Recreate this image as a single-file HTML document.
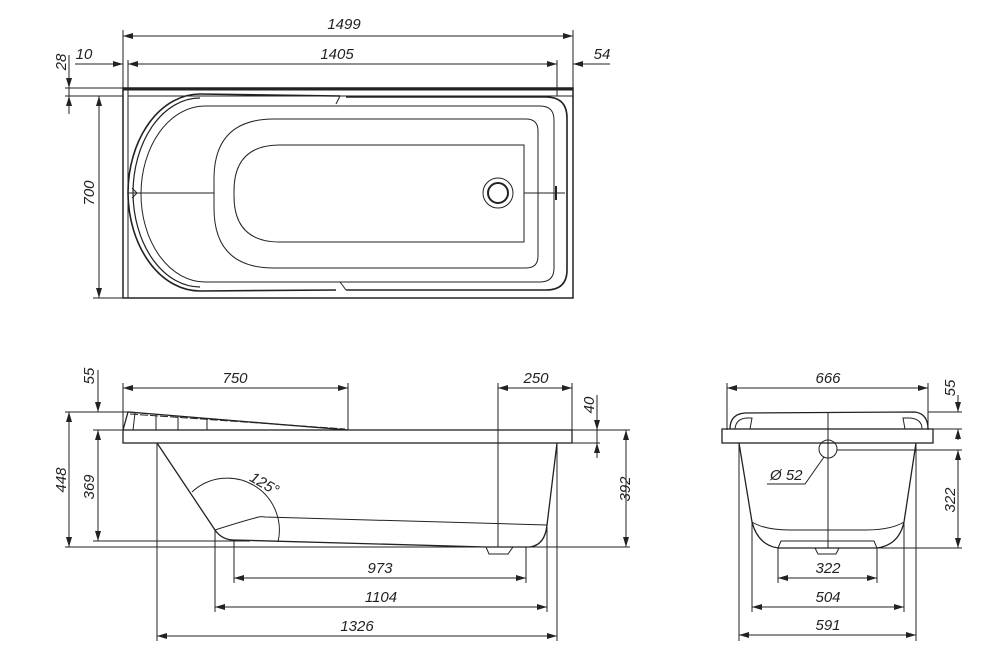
<!DOCTYPE html>
<html><head><meta charset="utf-8"><style>
html,body{margin:0;padding:0;background:#fff}
svg{display:block}
text{font-family:"Liberation Sans",sans-serif;font-style:italic;font-size:15px;fill:#222}
</style></head><body>
<svg width="1000" height="667" viewBox="0 0 1000 667" xmlns="http://www.w3.org/2000/svg">
<defs>
<marker id="a" viewBox="0 0 10 6" refX="10" refY="3" markerWidth="10" markerHeight="6" orient="auto-start-reverse" markerUnits="userSpaceOnUse"><path d="M0,0L10,3L0,6z" fill="#222"/></marker>
</defs>
<g stroke="#222" fill="none" stroke-width="1">
<!-- TOP VIEW -->
<line x1="123" y1="30" x2="123" y2="298"/>
<line x1="573" y1="30" x2="573" y2="298"/>
<line x1="123" y1="36" x2="573" y2="36" marker-start="url(#a)" marker-end="url(#a)"/>
<line x1="128" y1="60" x2="128" y2="298"/>
<line x1="557" y1="60" x2="557" y2="96"/>
<line x1="75" y1="64" x2="123" y2="64" marker-end="url(#a)"/>
<line x1="128" y1="64" x2="557" y2="64" marker-start="url(#a)" marker-end="url(#a)"/>
<line x1="573" y1="64" x2="610" y2="64" marker-start="url(#a)"/>
<line x1="69" y1="55" x2="69" y2="110"/>
<line x1="69" y1="70" x2="69" y2="88" marker-end="url(#a)"/>
<line x1="69" y1="114" x2="69" y2="96" marker-end="url(#a)"/>
<line x1="65" y1="88" x2="123" y2="88"/>
<line x1="65" y1="96" x2="123" y2="96"/>
<line x1="93" y1="298" x2="123" y2="298"/>
<line x1="99" y1="96" x2="99" y2="298" marker-start="url(#a)" marker-end="url(#a)"/>
<rect x="123" y="88" width="450" height="210" stroke-width="1.5"/>
<line x1="123" y1="89.5" x2="573" y2="89.5" stroke-width="2"/>
<line x1="128" y1="96" x2="573" y2="96"/>
<path d="M340,96 L200,94 A72,99 0 0 0 128,193 A72,99 0 0 0 200,291 L336,290" stroke-width="1.6"/>
<path d="M340,96 L336,104 M346,290 L340,282"/>
<path d="M346,97 L546,97 Q567,97 567,118 L567,270 Q567,290 546,290 L346,290" stroke-width="1.6"/>
<path d="M200,98 A67,95 0 0 0 133,193 A67,95 0 0 0 200,287" stroke-width="1.2"/>
<path d="M205,106 L540,106 Q554,106 554,120 L554,268 Q554,282 540,282 L205,282 A64,88 0 0 1 141,194 A64,88 0 0 1 205,106 Z"/>
<path d="M274,119 L526,119 Q538,119 538,131 L538,256 Q538,268 526,268 L274,268 Q214,268 214,208 L214,179 Q214,119 274,119 Z"/>
<path d="M280,145 L524,145 L524,242 L280,242 Q234,242 234,196 L234,191 Q234,145 280,145 Z"/>
<circle cx="498" cy="193" r="15"/>
<circle cx="498" cy="193" r="10" stroke-width="2"/>
<line x1="128" y1="193" x2="214" y2="193"/>
<line x1="524" y1="193" x2="565" y2="193"/>
<path d="M132,188 L137,193 L132,198"/>
<line x1="556" y1="186" x2="556" y2="200" stroke-width="2"/>

<!-- SIDE VIEW -->
<rect x="123" y="430" width="449" height="13" stroke-width="1.3"/>
<path d="M123,430 L128,412 L348,430" stroke-width="1.3"/>
<path d="M130,414 L345,429" stroke-dasharray="8,2"/>
<line x1="135" y1="413" x2="133" y2="430"/><line x1="156" y1="415" x2="156" y2="430"/><line x1="178" y1="416" x2="178" y2="430"/><line x1="207" y1="418" x2="207" y2="430"/>
<path d="M157,443 L215,530 Q222,540 234,540 L486,547 L530,547 Q545,545 547,525 L557,443" stroke-width="1.3"/>
<path d="M215,530 Q240,522 255,518 Q260,516 265,517 L547,525"/>
<path d="M486,547 L489,554 L508,554 L513,547"/>
<path d="M192,492 A52,52 0 0 1 278,542"/>
<line x1="123" y1="383" x2="123" y2="430"/>
<line x1="348" y1="383" x2="348" y2="430"/>
<line x1="123" y1="388" x2="348" y2="388" marker-start="url(#a)" marker-end="url(#a)"/>
<line x1="498" y1="383" x2="498" y2="547"/>
<line x1="572" y1="383" x2="572" y2="430"/>
<line x1="498" y1="388" x2="572" y2="388" marker-start="url(#a)" marker-end="url(#a)"/>
<line x1="597" y1="395" x2="597" y2="458"/>
<line x1="597" y1="400" x2="597" y2="430" marker-end="url(#a)"/>
<line x1="597" y1="455" x2="597" y2="443" marker-end="url(#a)"/>
<line x1="572" y1="443" x2="600" y2="443"/>
<line x1="572" y1="430" x2="630" y2="430"/>
<line x1="98" y1="370" x2="98" y2="410"/>
<line x1="98" y1="395" x2="98" y2="412" marker-end="url(#a)"/>
<line x1="65" y1="412" x2="128" y2="412"/>
<line x1="93" y1="430" x2="123" y2="430"/>
<line x1="98" y1="430" x2="98" y2="541" marker-start="url(#a)" marker-end="url(#a)"/>
<line x1="93" y1="541" x2="250" y2="541"/>
<line x1="65" y1="547" x2="630" y2="547"/>
<line x1="69" y1="412" x2="69" y2="547" marker-start="url(#a)" marker-end="url(#a)"/>
<line x1="626" y1="430" x2="626" y2="547" marker-start="url(#a)" marker-end="url(#a)"/>
<line x1="234" y1="540" x2="234" y2="583"/>
<line x1="526" y1="547" x2="526" y2="583"/>
<line x1="234" y1="578" x2="526" y2="578" marker-start="url(#a)" marker-end="url(#a)"/>
<line x1="215" y1="530" x2="215" y2="612"/>
<line x1="547" y1="525" x2="547" y2="612"/>
<line x1="215" y1="607" x2="547" y2="607" marker-start="url(#a)" marker-end="url(#a)"/>
<line x1="157" y1="443" x2="157" y2="641"/>
<line x1="557" y1="443" x2="557" y2="641"/>
<line x1="157" y1="636" x2="557" y2="636" marker-start="url(#a)" marker-end="url(#a)"/>

<!-- END VIEW -->
<rect x="722" y="429" width="211" height="14" stroke-width="1.3"/>
<path d="M730,429 Q730,414 745,413 L915,412 Q928,414 928,429" stroke-width="1.3"/>
<path d="M735,429 Q736,418 748,418 L752,418 L750,429 M905,429 L903,418 L910,418 Q922,419 922,429"/>
<path d="M739,443 L752,522 Q758,545 778,548 L877,548 Q899,545 904,522 L916,443" stroke-width="1.3"/>
<path d="M752,522 Q765,530 790,530 L866,530 Q891,530 904,522"/>
<path d="M778,548 L781,541 L874,541 L877,548"/>
<path d="M815,548 L818,554 L836,554 L839,548"/>
<line x1="828" y1="412" x2="828" y2="548"/>
<circle cx="828" cy="449" r="9"/>
<path d="M824,457 L805,484 L767,484"/>
<line x1="727" y1="383" x2="727" y2="430"/>
<line x1="928" y1="383" x2="928" y2="430"/>
<line x1="727" y1="388" x2="928" y2="388" marker-start="url(#a)" marker-end="url(#a)"/>
<line x1="928" y1="412" x2="962" y2="412"/>
<line x1="933" y1="429" x2="962" y2="429"/>
<line x1="958" y1="395" x2="958" y2="412" marker-end="url(#a)"/>
<line x1="958" y1="440" x2="958" y2="429" marker-end="url(#a)"/>
<line x1="837" y1="450" x2="962" y2="450"/>
<line x1="877" y1="548" x2="962" y2="548"/>
<line x1="958" y1="450" x2="958" y2="548" marker-start="url(#a)" marker-end="url(#a)"/>
<line x1="778" y1="548" x2="778" y2="583"/>
<line x1="877" y1="548" x2="877" y2="583"/>
<line x1="778" y1="578" x2="877" y2="578" marker-start="url(#a)" marker-end="url(#a)"/>
<line x1="752" y1="522" x2="752" y2="612"/>
<line x1="904" y1="522" x2="904" y2="612"/>
<line x1="752" y1="607" x2="904" y2="607" marker-start="url(#a)" marker-end="url(#a)"/>
<line x1="739" y1="443" x2="739" y2="641"/>
<line x1="916" y1="443" x2="916" y2="641"/>
<line x1="739" y1="635" x2="916" y2="635" marker-start="url(#a)" marker-end="url(#a)"/>
</g>
<g>
<text x="344" y="29" text-anchor="middle">1499</text>
<text x="337" y="59" text-anchor="middle">1405</text>
<text x="84" y="59" text-anchor="middle">10</text>
<text x="602" y="59" text-anchor="middle">54</text>
<text transform="translate(66,62) rotate(-90)" text-anchor="middle">28</text>
<text transform="translate(94,193) rotate(-90)" text-anchor="middle">700</text>
<text x="235" y="383" text-anchor="middle">750</text>
<text x="536" y="383" text-anchor="middle">250</text>
<text transform="translate(94,376) rotate(-90)" text-anchor="middle">55</text>
<text transform="translate(594,405) rotate(-90)" text-anchor="middle">40</text>
<text transform="translate(66,480) rotate(-90)" text-anchor="middle">448</text>
<text transform="translate(94,487) rotate(-90)" text-anchor="middle">369</text>
<text transform="translate(630,489) rotate(-90)" text-anchor="middle">392</text>
<text transform="translate(262,488) rotate(30)" text-anchor="middle">125°</text>
<text x="380" y="573" text-anchor="middle">973</text>
<text x="381" y="602" text-anchor="middle">1104</text>
<text x="357" y="631" text-anchor="middle">1326</text>
<text x="828" y="383" text-anchor="middle">666</text>
<text transform="translate(955,388) rotate(-90)" text-anchor="middle">55</text>
<text transform="translate(955,500) rotate(-90)" text-anchor="middle">322</text>
<text x="770" y="480">Ø 52</text>
<text x="828" y="573" text-anchor="middle">322</text>
<text x="828" y="602" text-anchor="middle">504</text>
<text x="828" y="630" text-anchor="middle">591</text>
</g>
</svg>
</body></html>
